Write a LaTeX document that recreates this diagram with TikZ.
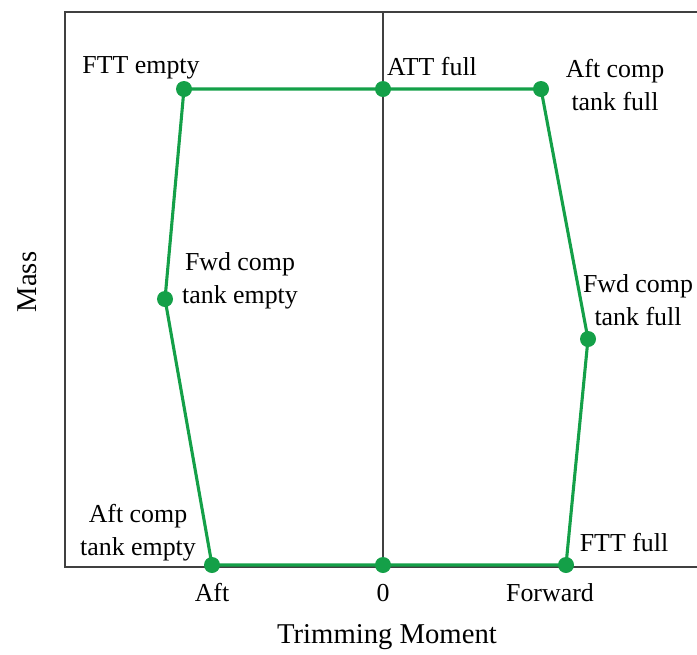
\documentclass[tikz,border=0pt]{standalone}
\usepackage{fontspec}
\setmainfont{Liberation Serif}
\usetikzlibrary{positioning}
\definecolor{trimgreen}{RGB}{20,160,72}

\begin{document}
\begin{tikzpicture}[
    x=0.0125cm, y=-0.0125cm,
    frame/.style={line width=0.7pt, black!75},
    envelope/.style={line width=1.1pt, trimgreen},
    point/.style={circle, fill=trimgreen, inner sep=0pt, minimum size=0.2cm},
    lbl/.style={font=\fontsize{9.2}{11.7}\selectfont, align=center, inner sep=0pt},
    axislbl/.style={font=\fontsize{10.2}{12}\selectfont, inner sep=0pt}
]
\useasboundingbox (0,0) rectangle (697,654);

% Frame (open on the right)
\coordinate (tl) at (65,12);
\coordinate (tr) at (697,12);
\coordinate (bl) at (65,567);
\coordinate (br) at (697,567);
\coordinate (zt) at (383,12);
\coordinate (zb) at (383,567);
\draw[frame] (tr) -- (tl) -- (bl) -- (br);
\draw[frame] (zt) -- (zb);

% Corner points of the envelope
\coordinate (fttE) at (184,89);
\coordinate (attF) at (383,89);
\coordinate (aftF) at (541,89);
\coordinate (fwdF) at (588,339);
\coordinate (fttF) at (566,565);
\coordinate (zero) at (383,565);
\coordinate (aftE) at (212,565);
\coordinate (fwdE) at (165,299);

% Envelope
\draw[envelope] (fttE) -- (attF) -- (aftF) -- (fwdF) -- (fttF) -- (zero) -- (aftE) -- (fwdE) -- cycle;
\foreach \p in {fttE, attF, aftF, fwdF, fttF, zero, aftE, fwdE}
    \node[point] at (\p) {};

% Labels
\node[lbl] (lfttE) at (141,68) {FTT empty};
\node[lbl] (lattF) at (432,67) {ATT full};
\node[lbl] (laftF) at (615,85) {Aft comp\\tank full};
\node[lbl] (lfwdE) at (240,281) {Fwd comp\\tank empty};
\node[lbl] (lfwdF) at (638,300) {Fwd comp\\tank full};
\node[lbl] (laftE) at (138,533) {Aft comp\\tank empty};
\node[lbl] (lfttF) at (624,543) {FTT full};

% Axes
\node[lbl] (taft) at (212,593) {Aft};
\node[lbl] (tzero) at (383,593) {0};
\node[lbl] (tfwd) at (550,593) {Forward};
\node[axislbl] (xlbl) at (387,637) {Trimming Moment};
\node[axislbl, rotate=90] (ylbl) at (27,282) {Mass};

\end{tikzpicture}
\end{document}
